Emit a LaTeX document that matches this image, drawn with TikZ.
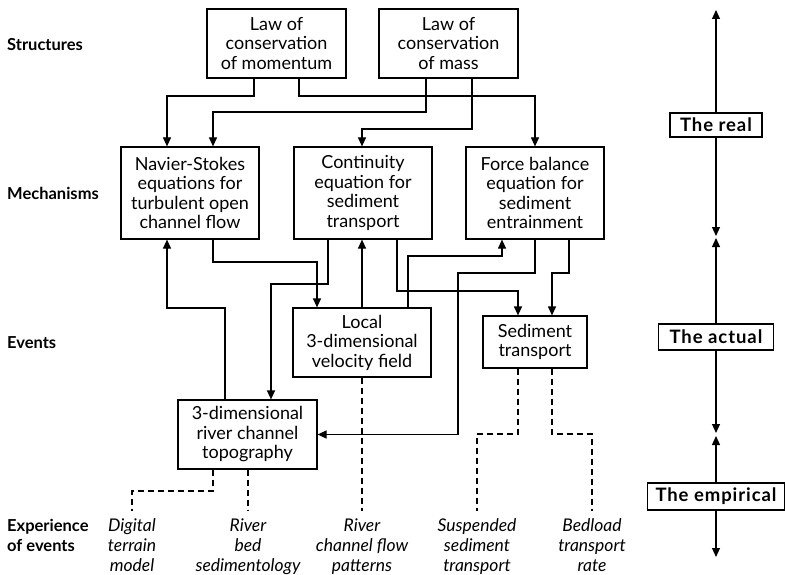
\documentclass[tikz,border=0pt]{standalone}
\usepackage{fontspec}
\setmainfont{Lato}
\usetikzlibrary{arrows.meta,calc}
\tikzset{
  box/.style={draw, line width=1.2pt, align=center, inner sep=0pt,
    font=\fontsize{18}{19.5}\selectfont},
  lvl/.style={font=\bfseries\fontsize{16.5}{20}\selectfont, align=left, inner sep=0pt},
  rbox/.style={draw, line width=1.2pt, inner sep=0pt,
    font=\bfseries\fontsize{18.5}{20}\selectfont\addfontfeature{LetterSpace=5}},
  exper/.style={font=\itshape\fontsize{17.5}{20}\selectfont, align=center, anchor=north, inner sep=0pt},
  conn/.style={line width=1.2pt, -{Triangle[length=9pt,width=8pt]}},
  dsh/.style={line width=1.2pt, dash pattern=on 6pt off 4pt},
}
\begin{document}
\begin{tikzpicture}[x=1pt,y=-1pt]
\useasboundingbox (0,0) rectangle (785,575);
% level labels
\node[lvl, anchor=west] (lstr) at (7,45) {Structures};
\node[lvl, anchor=west] (lmec) at (7,193) {Mechanisms};
\node[lvl, anchor=west] (lev) at (7,343) {Events};
\node[lvl, anchor=north west] (lexp) at (7,517) {\strut Experience\\of events};
% boxes
\node[box, minimum width=139pt, minimum height=69pt] (mom) at (276.5,43.5) {Law of\\conservation\\of momentum};
\node[box, minimum width=139pt, minimum height=69pt] (mass) at (448.5,43.5) {Law of\\conservation\\of mass};
\node[box, minimum width=138pt, minimum height=92pt] (nav) at (190,193) {Navier-Stokes\\equations for\\turbulent open\\channel flow};
\node[box, minimum width=138pt, minimum height=92pt] (cont) at (363,193) {Continuity\\equation for\\sediment\\transport};
\node[box, minimum width=138pt, minimum height=92pt] (force) at (535,193) {Force balance\\equation for\\sediment\\entrainment};
\node[box, minimum width=138pt, minimum height=69pt] (local) at (362,342.5) {Local\\3-dimensional\\velocity field};
\node[box, minimum width=104pt, minimum height=52pt] (sed) at (535,342) {Sediment\\transport};
\node[box, minimum width=139pt, minimum height=69pt] (topo) at (247.5,434.5) {3-dimensional\\river channel\\topography};
% experience labels
\node[exper] (dtm) at (132,517) {\strut Digital\\terrain\\model};
\node[exper] (rbs) at (248,517) {\strut River\\bed\\sedimentology};
\node[exper] (rcf) at (362,517) {\strut River\\channel flow\\patterns};
\node[exper] (sst) at (477,517) {\strut Suspended\\sediment\\transport};
\node[exper] (btr) at (592,517) {\strut Bedload\\transport\\rate};
% connectors
\draw[conn] (254,0 |- mom.south) |- (167,96) -- (167,0 |- nav.north);
\draw[conn] (299,0 |- mom.south) |- (force.north |- 0,96) -- (force.north);
\draw[conn] (426,0 |- mass.south) |- (213,112) -- (213,0 |- nav.north);
\draw[conn] (472,0 |- mass.south) |- (362,129) -- (362,0 |- cont.north);
\draw[conn] (213,0 |- nav.south) |- (317,262) -- (317,0 |- local.north);
\draw[conn] (225,0 |- topo.north) |- (167,308) -- (167,0 |- nav.south);
\draw[conn] (328,0 |- cont.south) |- (271,284) -- (271,0 |- topo.north);
\draw[conn] (362,0 |- local.north) -- (362,0 |- cont.south);
\draw[conn] (397,0 |- cont.south) |- (518,291) -- (518,0 |- sed.north);
\draw[conn] (408,0 |- local.north) |- (502,256) -- (502,0 |- force.south);
\draw[conn] (535,0 |- force.south) |- (458,273) |- (topo.east);
\draw[conn] (569,0 |- force.south) |- (552,273) -- (552,0 |- sed.north);
% dashed links to experience
\draw[dsh] (362,0 |- local.south) -- ($(rcf.north)+(0,-6)$);
\draw[dsh] (213,0 |- topo.south) |- (132,491) -- ($(dtm.north)+(0,-6)$);
\draw[dsh] (248,0 |- topo.south) -- ($(rbs.north)+(0,-6)$);
\draw[dsh] (518,0 |- sed.south) |- (477,434) -- ($(sst.north)+(0,-6)$);
\draw[dsh] (552,0 |- sed.south) |- (592,434) -- ($(btr.north)+(0,-6)$);
% right column
\node[rbox, minimum width=92pt, minimum height=24pt] (real) at (716,125) {The real};
\node[rbox, minimum width=115pt, minimum height=26pt] (actual) at (716,337) {The actual};
\node[rbox, minimum width=137pt, minimum height=27pt] (empir) at (716,496.5) {The empirical};
\coordinate (t0) at (716,10);
\coordinate (t1) at (716,236);
\coordinate (t2) at (716,238);
\coordinate (t3) at (716,433);
\coordinate (t4) at (716,436);
\coordinate (t5) at (716,557);
\draw[conn] (real.north) -- (t0);
\draw[conn] (real.south) -- (t1);
\draw[conn] (actual.north) -- (t2);
\draw[conn] (actual.south) -- (t3);
\draw[conn] (empir.north) -- (t4);
\draw[conn] (empir.south) -- (t5);
\end{tikzpicture}
\end{document}
